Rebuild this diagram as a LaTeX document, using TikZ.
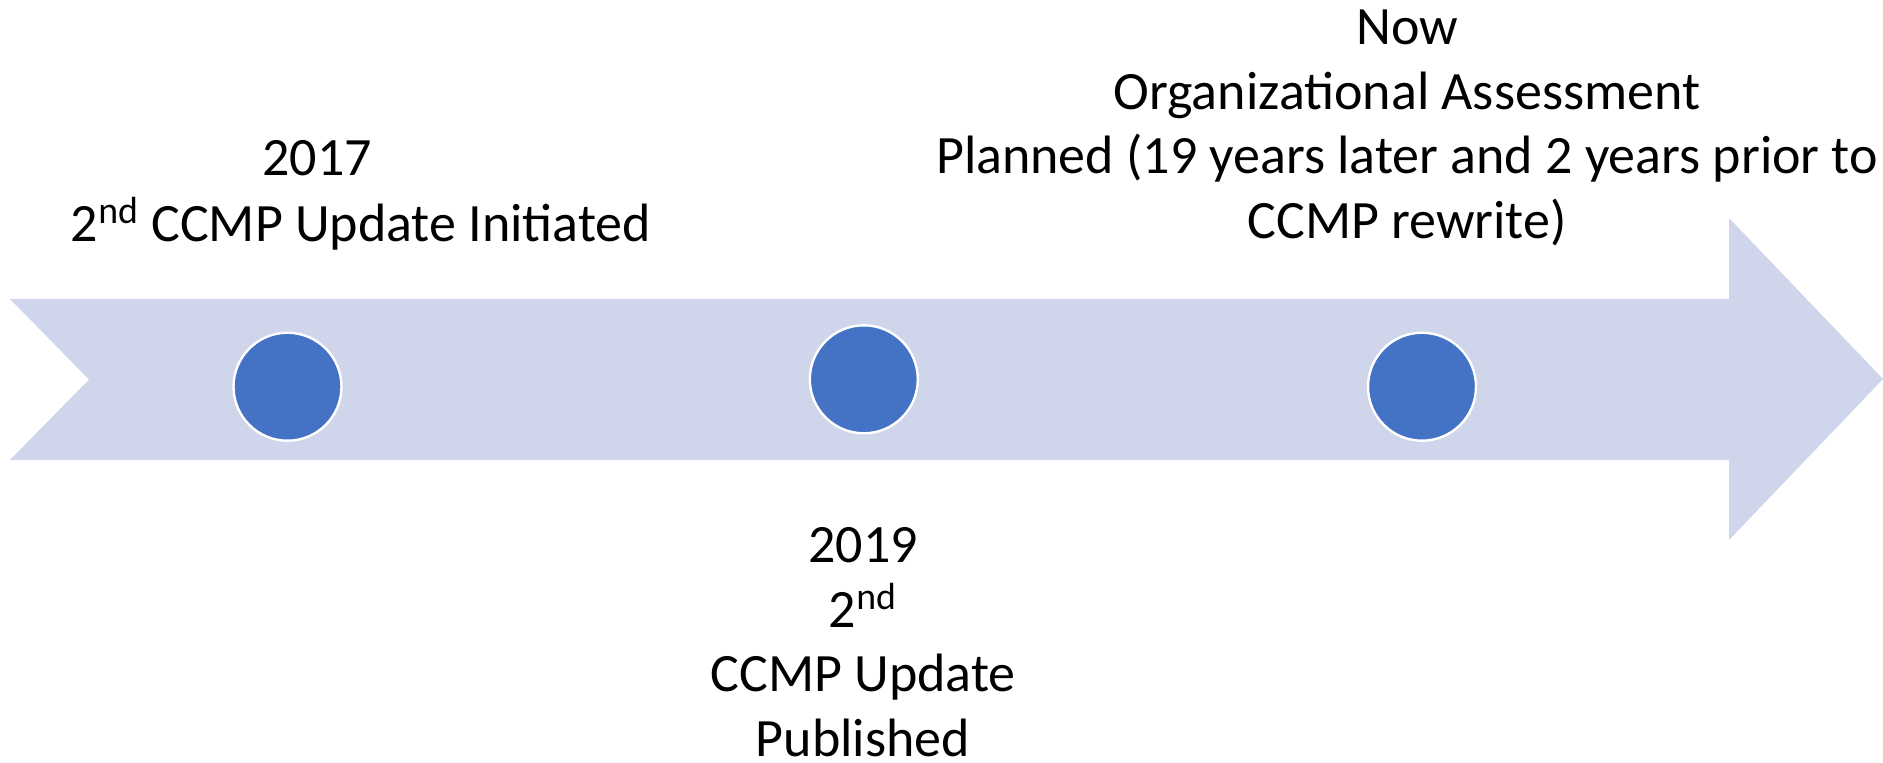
\documentclass[tikz,border=0pt]{standalone}
\usepackage{fontspec}
\setmainfont{Carlito}
\usetikzlibrary{positioning}
\definecolor{bandblue}{RGB}{207,213,234}
\definecolor{dotblue}{RGB}{68,114,196}

\begin{document}
\begin{tikzpicture}[x=0.5pt, y=-0.5pt,
  dot/.style={circle, fill=dotblue, draw=white, line width=1.2pt, minimum size=54pt, inner sep=0pt},
  lbl/.style={align=center, anchor=base, inner sep=0pt, font=\fontsize{27}{32.2}\selectfont}
]
  \useasboundingbox (0,0) rectangle (1883,762);
  % timeline band
  \fill[bandblue] (10,299) -- (1729,299) -- (1729,218) -- (1883,379) -- (1729,540)
    -- (1729,460) -- (10,460) -- (89,379.5) -- cycle;
  % milestones
  \node[dot] (m1) at (287.5,386.7) {};
  \node[dot] (m2) at (863.8,379.3) {};
  \node[dot] (m3) at (1422,386.7) {};
  % labels (anchored on the baseline of their last line)
  \node[lbl] (y1) at (317,175.5) {2017};
  \node[lbl] (t1) at (361,241.5) {2\textsuperscript{nd} CCMP Update Initiated};
  \node[lbl] (t2) at (863,756) {2019\\2\textsuperscript{nd}\\CCMP Update\\Published};
  \node[lbl] (t3) at (1407,238) {Now\\Organizational Assessment\\Planned (19 years later and 2 years prior to\\CCMP rewrite)};
\end{tikzpicture}
\end{document}
